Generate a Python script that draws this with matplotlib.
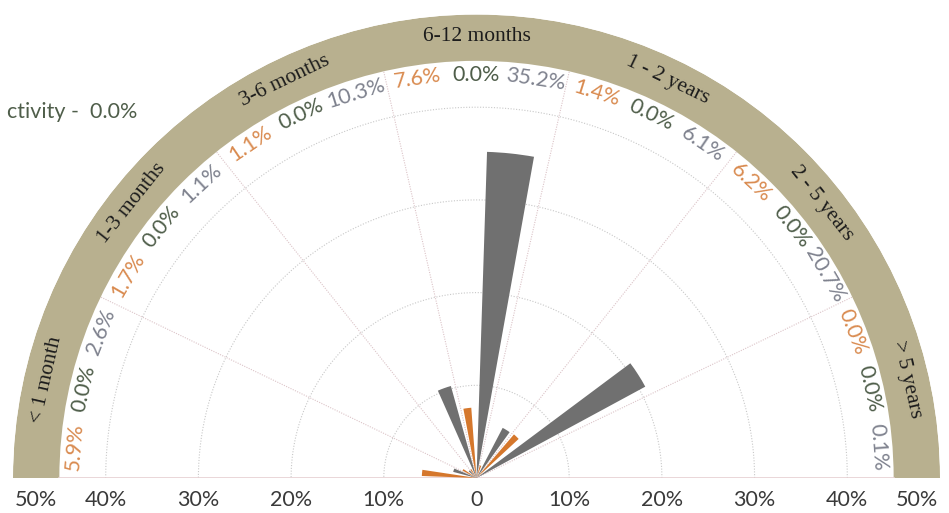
import numpy as np
import matplotlib.pyplot as plt

# duration buckets, left (0 side of the fan) to right
categories = ["< 1 month", "1-3 months", "3-6 months", "6-12 months",
              "1 - 2 years", "2 - 5 years", "> 5 years"]
orange_vals = [5.9, 1.7, 1.1, 7.6, 1.4, 6.2, 0.0]
green_vals = [0.0, 0.0, 0.0, 0.0, 0.0, 0.0, 0.0]
gray_vals = [2.6, 1.1, 10.3, 35.2, 6.1, 20.7, 0.1]
r_ticks = [0, 10, 20, 30, 40, 50]
r_tick_labels = ["0", "10%", "20%", "30%", "40%", "50%"]
# the reference shows this note cut at the left edge
no_activity_label = "ctivity -  0.0%"

ORANGE = "#d5772c"
ORANGE_TXT = "#d98b50"
GREEN_TXT = "#4f5e4a"
GRAY = "#707070"
GRAY_TXT = "#7f828e"
BAND = "#b8b08f"

W, H = 949, 513
fig = plt.figure(figsize=(W / 100, H / 100), dpi=100)
# polar half-disc sits in a square box, centre at 1/4 of its height
side = 927
cx, cy = 476.5, H - 478
ax = fig.add_axes([(cx - side / 2) / W, (cy - side / 4) / H, side / W, side / H],
                  projection="polar")
ax.set_thetamin(0)
ax.set_thetamax(180)
ax.set_ylim(0, 50)
ax.axis("off")

n = len(categories)
step = 180.0 / n
# sector centres, first category at the left (180 deg)
centres = np.array([180 - step * (i + 0.5) for i in range(n)])

# outer tan band
ax.bar(np.pi / 2, 5, width=np.pi, bottom=45, color=BAND, linewidth=0, zorder=1)

# grid circles
th = np.linspace(0, np.pi, 300)
for r in r_ticks[1:-1]:
    ax.plot(th, np.full_like(th, r), color="#c8c8c8", lw=0.8, ls=(0, (1, 1.5)), zorder=2)

# sector dividers and baseline
for k in range(1, n):
    t = np.deg2rad(180 - step * k)
    ax.plot([t, t], [0, 45], color="#dcc4c8", lw=0.8, ls=(0, (1, 1.2)), zorder=2)
for t in (0, np.pi):
    ax.plot([t, t], [0, 45], color="#e6d0d2", lw=1.2, zorder=2)

# bars
ax.bar(np.deg2rad(centres + 7.5), orange_vals, width=np.deg2rad(6.5),
       color=ORANGE, linewidth=0, zorder=3)
ax.bar(np.deg2rad(centres), green_vals, width=np.deg2rad(6.5),
       color=GREEN_TXT, linewidth=0, zorder=3)
ax.bar(np.deg2rad(centres - 6.0), gray_vals, width=np.deg2rad(8.3),
       color=GRAY, linewidth=0, zorder=3)

# category names in the band
for c, name in zip(centres, categories):
    ax.text(np.deg2rad(c), 47.6, name, rotation=c - 90, rotation_mode="anchor",
            ha="center", va="center", fontsize=15.5, color="#1c1c1c",
            family="Liberation Serif", zorder=4)

# value labels just inside the band
for vals, off, col in ((orange_vals, 8.4, ORANGE_TXT), (green_vals, 0.0, GREEN_TXT),
                       (gray_vals, -8.4, GRAY_TXT)):
    for c, v in zip(centres, vals):
        a = c + off
        ax.text(np.deg2rad(a), 43.5, f"{v:.1f}%", rotation=a - 90,
                rotation_mode="anchor", ha="center", va="center",
                fontsize=15.5, color=col, family="Lato", zorder=4)

# radial scale under the baseline, both sides
for r, lab in zip(r_ticks, r_tick_labels):
    rr = min(r, 47.5)  # keep the outer label inside the figure
    sides = [0] if r == 0 else [0, np.pi]
    for t in sides:
        ax.annotate(lab, xy=(t, rr), xytext=(0, -22), textcoords="offset pixels",
                    ha="center", va="center", fontsize=15.5, color="#3a3a3a",
                    family="Lato", annotation_clip=False)

fig.text(137 / W, 1 - 112 / H, no_activity_label, ha="right", va="center",
         fontsize=15.5, color=GREEN_TXT, family="Lato")

fig.savefig("out.png", dpi=100)
